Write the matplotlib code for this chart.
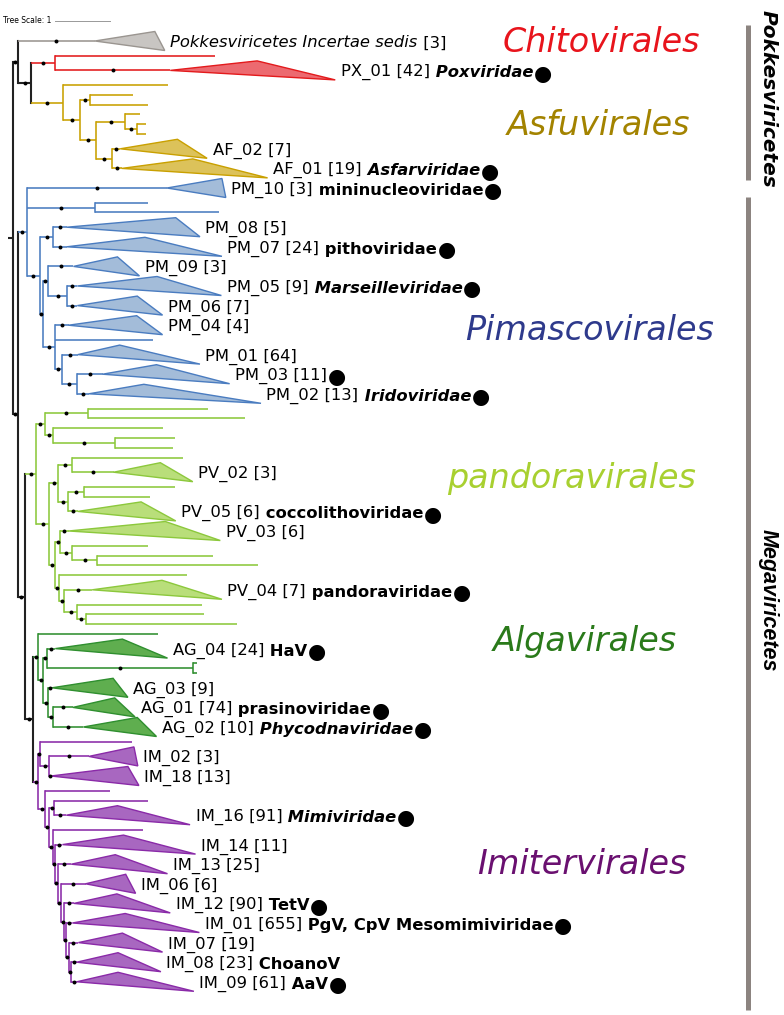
import matplotlib
matplotlib.use("Agg")
import matplotlib.pyplot as plt
from matplotlib.patches import Polygon

# ---- tree data (branch lengths in tree units, children listed top to bottom) ----
pokkesIncertae = "Pokkesviricetes Incertae sedis:1.40"
chitovirales = "(:2.91,PX_01:2.09):0.44"
asfuvirales = ("(:1.91,((:0.78,:1.05):0.18,((:0.27,(:0.16,:0.16):0.22):0.53,"
               "(AF_02:0.15,AF_01:0.18):0.29):0.29):0.31):0.58")
pimascovirales = ("(PM_10:2.55,(:0.95,:2.25):1.25,((PM_08:0.25,PM_07:0.25):0.24,"
                  "((PM_09:0.47,(PM_05:0.18,PM_06:0.18):0.36):0.09,"
                  "(PM_04:0.25,:1.78,(PM_01:0.29,(PM_03:0.47,PM_02:0.22):0.27):0.13):0.22):0.05):0.24):0.16")
pandoravirales = ("(((:2.18,:2.85):0.78,(:2.0,(:1.09,:1.05):1.13):0.15):0.16,"
                  "(((:2.02,PV_02:0.76):0.25,((:1.65,:1.2):0.29,PV_05:0.18):0.18):0.16,"
                  "((PV_03:0.15,(:1.38,(:2.11,:2.93):0.45):0.22):0.09,"
                  "(:2.33,(PV_04:0.51,(:2.27,(:2.15,:2.75):0.15):0.24):0.09):0.07):0.11):0.24):0.2")
algavirales = ("(:2.18,((AG_04:0.15,(:0.07,:0.07):2.65):0.07,"
               "(AG_03:0.07,(AG_01:0.36,AG_02:0.55):0.09):0.09):0.09):0.09")
imitervirales = ("((:1.67,(IM_02:0.73,IM_18:0.04):0.15):0.04,"
                 "(:1.18,((:1.71,IM_16:0.22):0.09,"
                 "(:1.64,(IM_14:0.13,(IM_13:0.25,(IM_06:0.44,(IM_12:0.18,(IM_01:0.11,"
                 "(IM_07:0.18,(IM_08:0.11,IM_09:0.11):0.04):0.04):0.04):0.05):0.07):0.04):0.04)"
                 ":0.07):0.07):0.13):0.09")

# backbone branch lengths
rootStub = 0.09
pokkesStem = 0.09
chitoAsfuStem = 0.24
megaStem = 0.09
pandoraAlgaImiStem = 0.13
algaImiStem = 0.15

# collapsed clades
collapsedNames = ["Pokkesviricetes Incertae sedis", "PX_01", "AF_02", "AF_01", "PM_10", "PM_08",
                  "PM_07", "PM_09", "PM_05", "PM_06", "PM_04", "PM_01", "PM_03", "PM_02",
                  "PV_02", "PV_05", "PV_03", "PV_04", "AG_04", "AG_03", "AG_01", "AG_02",
                  "IM_02", "IM_18", "IM_16", "IM_14", "IM_13", "IM_06", "IM_12", "IM_01",
                  "IM_07", "IM_08", "IM_09"]
collapsedCounts = [3, 42, 7, 19, 3, 5, 24, 3, 9, 7, 4, 64, 11, 13, 3, 6, 6, 7, 24, 9, 74, 10,
                   3, 13, 91, 11, 25, 6, 90, 655, 19, 23, 61]
collapsedShort = [1.09, 1.58, 1.04, 1.29, 1.0, 1.98, 1.42, 0.8, 1.45, 1.09, 1.24, 0.76, 0.98,
                  1.0, 0.85, 1.15, 1.76, 1.27, 1.22, 1.11, 0.76, 0.98, 0.82, 1.4, 0.93, 1.11,
                  0.8, 0.73, 0.78, 0.96, 0.8, 0.75, 0.75]
collapsedLong = [1.27, 3.0, 1.58, 2.65, 1.07, 2.42, 2.82, 1.2, 2.62, 1.55, 1.71, 2.22, 2.31,
                 3.13, 1.44, 1.78, 2.76, 2.36, 2.04, 1.38, 1.13, 1.33, 0.89, 1.6, 2.25, 2.42,
                 1.75, 0.91, 1.75, 2.31, 1.53, 1.53, 2.13]
collapsedFamily = ["", "Poxviridae", "", "Asfarviridae", "mininucleoviridae", "", "pithoviridae",
                   "", "Marseilleviridae", "", "", "", "", "Iridoviridae", "", "coccolithoviridae",
                   "", "pandoraviridae", "HaV", "", "prasinoviridae", "Phycodnaviridae", "", "",
                   "Mimiviridae", "", "", "", "TetV", "PgV, CpV Mesomimiviridae", "", "ChoanoV", "AaV"]
italicFamilies = ["Poxviridae", "Asfarviridae", "Marseilleviridae", "Iridoviridae",
                  "Phycodnaviridae", "Mimiviridae"]
italicNames = ["Pokkesviricetes Incertae sedis"]
markedClades = ["PX_01", "AF_01", "PM_10", "PM_07", "PM_05", "PM_03", "PM_02", "PV_05", "PV_04",
                "AG_04", "AG_01", "AG_02", "IM_16", "IM_12", "IM_01", "IM_09"]

# orders (big coloured labels)
orderNames = ["Chitovirales", "Asfuvirales", "Pimascovirales", "pandoravirales",
              "Algavirales", "Imitervirales"]
orderTextColors = ["#e8141c", "#a38300", "#2e3a8c", "#a8d030", "#2a7a1a", "#6a1070"]
classNames = ["Pokkesviricetes", "Megaviricetes"]

# ---- styling / layout ----
backboneColor = "#222222"
grayColor, grayFill = "#9a9590", "#c8c5c2"
cladeColors = ["#e31a1c", "#c9a000", "#4a7cc0", "#8cc83c", "#2f8f2f", "#8a2aa8"]
cladeFills = ["#ec6a70", "#dcc25a", "#a3bcd9", "#b9de7a", "#5fae4f", "#a867c0"]
orderLabelX = [10.78, 10.73, 10.58, 10.24, 10.49, 10.44]
orderLabelY = [1.2, 9.6, 30.5, 45.6, 62.3, 85.0]
PX_PER_UNIT = 55.0
ROW_PX = 9.8
TOP_PX = 31.2
ROOT_PX = 8.0
W, H = 784, 1015
LABEL_FS = 11.8


def parseNewick(text):
    pos = 0

    def parse():
        nonlocal pos
        node = {"name": "", "length": 0.0, "children": []}
        if text[pos] == "(":
            pos += 1
            while True:
                node["children"].append(parse())
                if text[pos] == ",":
                    pos += 1
                    continue
                pos += 1  # ')'
                break
        start = pos
        while pos < len(text) and text[pos] not in ":,();":
            pos += 1
        node["name"] = text[start:pos].strip()
        if pos < len(text) and text[pos] == ":":
            pos += 1
            start = pos
            while pos < len(text) and text[pos] not in ",();":
                pos += 1
            node["length"] = float(text[start:pos])
        return node

    return parse()


def makeNode(children, length):
    return {"name": "", "length": length, "children": children}


def layoutTree(node, x0, counter):
    node["x"] = x0 + node["length"]
    if node["children"]:
        for c in node["children"]:
            layoutTree(c, node["x"], counter)
        node["y"] = (node["children"][0]["y"] + node["children"][-1]["y"]) / 2
    else:
        h = 2 if node["name"] in collapsedNames else 1
        node["y"] = counter[0] + h / 2
        counter[0] += h


def leafRows(node, out):
    if node["children"]:
        for c in node["children"]:
            leafRows(c, out)
    else:
        h = 2 if node["name"] in collapsedNames else 1
        out.append((node["y"] - h / 2, node["y"] + h / 2))
    return out


def drawLabel(ax, node):
    i = collapsedNames.index(node["name"])
    x = node["x"] + collapsedLong[i] + 0.1
    y = node["y"] + 0.2
    name = collapsedNames[i]
    if name in italicNames:
        t = ax.text(x, y, name, fontsize=LABEL_FS, style="italic", va="center", ha="left")
        t = ax.annotate(" [%d]" % collapsedCounts[i], xy=(1, 0), xycoords=t,
                        fontsize=LABEL_FS, va="bottom", ha="left")
    else:
        t = ax.text(x, y, "%s [%d]" % (name, collapsedCounts[i]), fontsize=LABEL_FS,
                    va="center", ha="left")
    fam = collapsedFamily[i]
    if fam:
        t = ax.annotate(" " + fam, xy=(1, 0), xycoords=t, fontsize=LABEL_FS, va="bottom",
                        ha="left", fontweight="bold",
                        style="italic" if fam in italicFamilies else "normal")
    if name in markedClades:
        ax.annotate("\u25cf", xy=(1, 0.5), xycoords=t, xytext=(0.5, -0.5),
                    textcoords="offset points", fontsize=15, va="center", ha="left")


def drawTree(ax, node, parentX, color, fill, dots, isRoot=False):
    color = node.get("color", color)
    fill = node.get("fill", fill)
    lw = 1.5 if color == backboneColor else 1.15
    ax.plot([parentX, node["x"]], [node["y"], node["y"]], color=color, lw=lw,
            solid_capstyle="butt", zorder=2)
    collapsed = node["name"] in collapsedNames
    if (node["children"] or collapsed) and not isRoot:
        dots.append(((parentX + node["x"]) / 2, node["y"]))
    if node["children"]:
        ch = node["children"]
        ax.plot([node["x"], node["x"]], [ch[0]["y"], ch[-1]["y"]], color=color, lw=lw,
                solid_capstyle="projecting", zorder=2)
        for c in ch:
            drawTree(ax, c, node["x"], color, fill, dots)
    elif collapsed:
        i = collapsedNames.index(node["name"])
        x, y = node["x"], node["y"]
        tri = Polygon([(x, y), (x + collapsedShort[i], y - 0.97), (x + collapsedLong[i], y + 0.97)],
                      closed=True, facecolor=fill, edgecolor=color, lw=1.0, zorder=3)
        ax.add_patch(tri)
        drawLabel(ax, node)


# ---- build tree ----
pok = parseNewick(pokkesIncertae)
pok["color"], pok["fill"] = grayColor, grayFill
clades = [parseNewick(s) for s in
          [chitovirales, asfuvirales, pimascovirales, pandoravirales, algavirales, imitervirales]]
for c, col, fl in zip(clades, cladeColors, cladeFills):
    c["color"], c["fill"] = col, fl
chito, asfu, pima, pando, alga, imit = clades

pokkesNode = makeNode([pok, makeNode([chito, asfu], chitoAsfuStem)], pokkesStem)
megaNode = makeNode([pima, makeNode([pando, makeNode([alga, imit], algaImiStem)],
                                    pandoraAlgaImiStem)], megaStem)
root = makeNode([pokkesNode, megaNode], rootStub)
layoutTree(root, 0.0, [0])

# ---- draw ----
fig = plt.figure(figsize=(W / 100, H / 100), dpi=100)
ax = fig.add_axes([0, 0, 1, 1])
ax.set_xlim(-ROOT_PX / PX_PER_UNIT, (W - ROOT_PX) / PX_PER_UNIT)
ax.set_ylim((H - TOP_PX) / ROW_PX, -TOP_PX / ROW_PX)
ax.axis("off")

dots = []
drawTree(ax, root, 0.0, backboneColor, grayFill, dots, isRoot=True)
ax.scatter([d[0] for d in dots], [d[1] for d in dots], s=8, color="black", zorder=5,
           linewidths=0)

for name, col, lx, ly in zip(orderNames, orderTextColors, orderLabelX, orderLabelY):
    ax.text(lx, ly, name, color=col, fontsize=24, style="italic", ha="center", va="center")

# class bars
barX = (748 - ROOT_PX) / PX_PER_UNIT
textX = (768 - ROOT_PX) / PX_PER_UNIT
pRows = leafRows(pokkesNode, [])
mRows = leafRows(megaNode, [])
pLo, pHi = pRows[0][0] - 0.6, pRows[-1][1] + 0.2
mLo, mHi = mRows[0][0] + 1.9, mRows[-1][1] + 1.9
ax.plot([barX, barX], [pLo, pHi], color="#8c8480", lw=3.6, solid_capstyle="butt")
ax.plot([barX, barX], [mLo, mHi], color="#8c8480", lw=3.6, solid_capstyle="butt")
ax.text(textX, (pLo + pHi) / 2 - 0.4, classNames[0], rotation=-90, fontsize=14.5,
        fontweight="bold", style="italic", ha="center", va="center")
ax.text(textX, (mLo + mHi) / 2 - 0.3, classNames[1], rotation=-90, fontsize=15.5,
        fontweight="bold", style="italic", family="Liberation Sans", ha="center", va="center")

# tree scale
scaleY = (21 - TOP_PX) / ROW_PX
scaleX0 = (55 - ROOT_PX) / PX_PER_UNIT
ax.text(-5 / PX_PER_UNIT, scaleY, "Tree Scale: 1", fontsize=5.5, ha="left", va="center")
ax.plot([scaleX0, scaleX0 + 1.0], [scaleY, scaleY], color="#999999", lw=0.7)

fig.savefig("out.png", dpi=100)
